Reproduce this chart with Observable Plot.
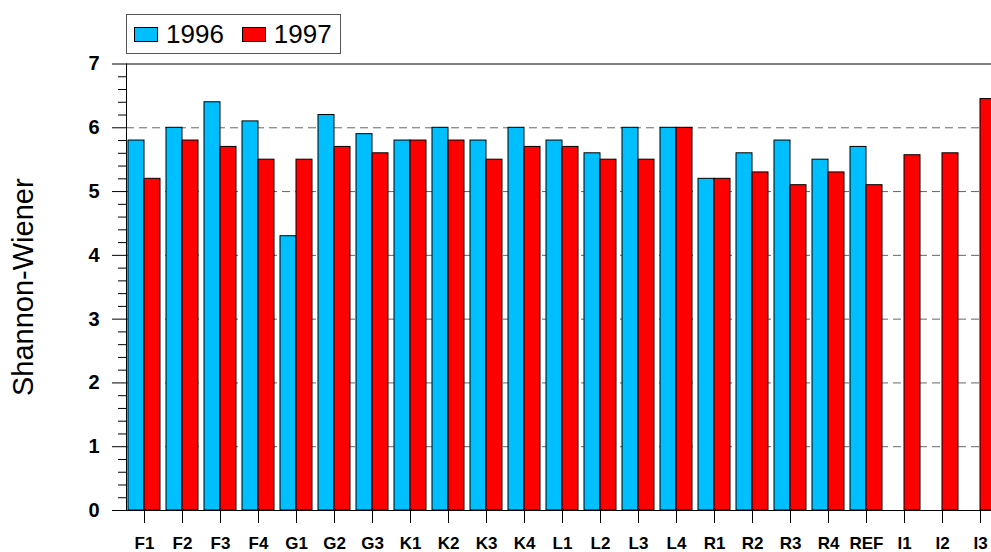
<!DOCTYPE html>
<html>
<head>
<meta charset="utf-8">
<script src="https://cdn.jsdelivr.net/npm/d3@7"></script>
<script src="https://cdn.jsdelivr.net/npm/@observablehq/plot@0.6"></script>
<style>
  html, body { margin: 0; padding: 0; background: white; }
  #wrap { position: relative; width: 991px; height: 552px; overflow: hidden; font-family: "Liberation Sans", Arial, sans-serif; }
  #wrap svg { display: block; overflow: hidden; }
  .legend { position: absolute; left: 126px; top: 14px; height: 38px; border: 1px solid #555; background: white;
            display: flex; align-items: center; padding: 0 8px 0 7px; box-sizing: content-box; }
  .legend .item { display: flex; align-items: center; margin-right: 18px; }
  .legend .item:last-child { margin-right: 0; }
  .legend .sw { width: 22px; height: 13px; border: 1px solid #000; margin-right: 8px; }
  .legend .lab { font-size: 26px; line-height: 26px; color: #000; }
</style>
</head>
<body>
<div id="wrap"></div>
<script>
// ---- data ----
const categories = ["F1","F2","F3","F4","G1","G2","G3","K1","K2","K3","K4","L1","L2","L3","L4","R1","R2","R3","R4","REF","I1","I2","I3"];
const v1996 = [5.8,6.0,6.4,6.1,4.3,6.2,5.9,5.8,6.0,5.8,6.0,5.8,5.6,6.0,6.0,5.2,5.6,5.8,5.5,5.7,null,null,null];
const v1997 = [5.2,5.8,5.7,5.5,5.5,5.7,5.6,5.8,5.8,5.5,5.7,5.7,5.5,5.5,6.0,5.2,5.3,5.1,5.3,5.1,5.57,5.6,6.45];
const seriesNames = ["1996","1997"];
const seriesColors = ["#00BFFF","#FF0000"];
const yMajorTicks = [0,1,2,3,4,5,6,7];
const yMinorTicks = d3.range(0, 7.001, 0.2).map(v => +v.toFixed(1)).filter(v => !yMajorTicks.includes(v));
const gridValues = [1,2,3,4,5,6];
const yTitle = "Shannon-Wiener";

const rows1996 = categories.map((c, i) => ({cat: c, value: v1996[i]})).filter(d => d.value != null);
const rows1997 = categories.map((c, i) => ({cat: c, value: v1997[i]})).filter(d => d.value != null);

const font = "'Liberation Sans', Arial, sans-serif";

const plot = Plot.plot({
  width: 991,
  height: 552,
  marginLeft: 126,
  marginRight: 0,
  marginTop: 63.5,
  marginBottom: 42,
  x: {type: "band", domain: categories, range: [125.3, 999.3], paddingInner: 6/38, paddingOuter: 3/38, axis: null, label: null},
  y: {domain: [0, 7], range: [510, 63.5], axis: null, label: null},
  style: {fontFamily: font, background: "white", color: "black", overflow: "hidden"},
  marks: [
    Plot.ruleY(gridValues, {stroke: "#666", strokeDasharray: "8,5"}),
    Plot.barY(rows1996, {x: "cat", y: "value", fill: seriesColors[0], stroke: "black", strokeWidth: 1, insetRight: 16, insetLeft: 0}),
    Plot.barY(rows1997, {x: "cat", y: "value", fill: seriesColors[1], stroke: "black", strokeWidth: 1, insetLeft: 16, insetRight: 0}),
    Plot.ruleY([0, 7], {stroke: "black"}),
    Plot.axisY(yMinorTicks, {tickSize: 8, tickFormat: () => "", label: null}),
    Plot.axisY(yMajorTicks, {tickSize: 14, tickFormat: () => "", label: null}),
    Plot.text(yMajorTicks, {y: d => d, text: d => String(d), frameAnchor: "left", dx: -27, textAnchor: "end", lineAnchor: "middle", fontSize: 20, fontWeight: "bold", fill: "black"}),
    Plot.frame({anchor: "left", stroke: "black"}),
    Plot.axisX({tickSize: 13, tickFormat: () => "", label: null}),
    Plot.text(categories, {x: d => d, text: d => d, frameAnchor: "bottom", dy: 38, lineAnchor: "bottom", textAnchor: "middle", fontSize: 17, fontWeight: "bold", fill: "black"}),
    Plot.text([yTitle], {frameAnchor: "left", rotate: -90, dx: -103, textAnchor: "middle", lineAnchor: "middle", fontSize: 29, fill: "black"})
  ]
});

const wrap = document.getElementById("wrap");
wrap.appendChild(plot);

// legend
const legend = document.createElement("div");
legend.className = "legend";
seriesNames.forEach((name, i) => {
  const item = document.createElement("div");
  item.className = "item";
  const sw = document.createElement("div");
  sw.className = "sw";
  sw.style.background = seriesColors[i];
  const lab = document.createElement("span");
  lab.className = "lab";
  lab.textContent = name;
  item.appendChild(sw);
  item.appendChild(lab);
  legend.appendChild(item);
});
wrap.appendChild(legend);
</script>
</body>
</html>
